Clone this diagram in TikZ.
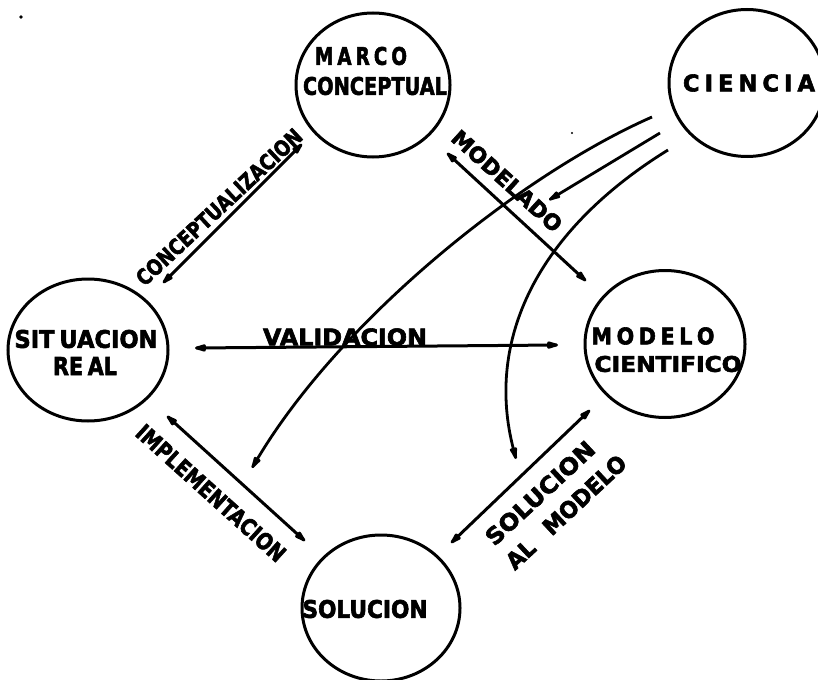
\documentclass[tikz,border=0pt]{standalone}
\usepackage{fontspec}
\setmainfont{DejaVu Sans}[BoldFont={DejaVu Sans Bold},BoldFeatures={FakeBold=2.6}]
\usetikzlibrary{shapes.geometric,arrows.meta}
\newcommand{\fitt}[3]{\resizebox{#1pt}{#2pt}{\bfseries #3}}
\newcommand{\gp}{\hspace{0.22em}}
\begin{document}
\begin{tikzpicture}[x=1pt,y=-1pt,
  bub/.style={draw,ellipse,line width=3pt,inner sep=0pt},
  lab/.style={inner sep=0pt,anchor=center},
  tipx/.tip={Latex[round,length=20pt,width=8.5pt]},
  rel/.style={line width=3pt,{tipx}-{tipx}},
  inf/.style={line width=2.8pt,-{tipx}}]
\useasboundingbox (0,0) rectangle (818,679);
\fill (21,17) circle (1.8);
\fill (572,133) circle (1.2);
% bubbles
\node[bub,minimum width=154pt,minimum height=144pt] (marco) at (373,85) {};
\node[bub,minimum width=156pt,minimum height=147pt] (ciencia) at (747,83) {};
\node[bub,minimum width=160pt,minimum height=142pt] (sit) at (88,350) {};
\node[bub,minimum width=160pt,minimum height=147pt] (modelo) at (665,344) {};
\node[bub,minimum width=158pt,minimum height=146pt] (sol) at (381,608) {};
% bubble texts
\node[lab] (tmarco) at (361,56) {\fitt{92}{18}{M\gp A\gp R\gp C\gp O}};
\node[lab] (tconc) at (375,86) {\fitt{144}{18}{CONCEPTUAL}};
\node[lab] (tcien) at (749,83) {\fitt{132}{17}{C\gp I\gp E\gp N\gp C\gp I\gp A}};
\node[lab] (tsit) at (86,339) {\fitt{143}{18}{SIT\gp UACION}};
\node[lab] (treal) at (85,366) {\fitt{64}{18}{RE\gp AL}};
\node[lab] (tmod) at (653,336) {\fitt{123}{17}{M\gp O\gp D\gp E\gp L\gp O}};
\node[lab] (tcie) at (668,364) {\fitt{147}{16}{CIENTIFICO}};
\node[lab] (tsol) at (365,609) {\fitt{125}{18}{SOLUCION}};
% connector end points
\coordinate (cs) at (163,283); \coordinate (cm) at (302,144);
\coordinate (mm) at (447,153); \coordinate (mo) at (586,281);
\coordinate (vs) at (195,348); \coordinate (vm) at (558,345);
\coordinate (is) at (167,416); \coordinate (iu) at (305,541);
\coordinate (su) at (451,543); \coordinate (sm) at (590,410);
\coordinate (ca1) at (652,117); \coordinate (ca2) at (252,468);
\coordinate (cb1) at (660,133); \coordinate (cb2) at (549,200);
\coordinate (cc1) at (668,150); \coordinate (cc2) at (516,459);
% relations
\draw[rel] (cs) -- (cm);
\draw[rel] (mm) -- (mo);
\draw[rel] (vs) -- (vm);
\draw[rel] (is) -- (iu);
\draw[rel] (su) -- (sm);
% ciencia influences
\draw[inf] (ca1) .. controls (520,175) and (340,320) .. (ca2);
\draw[inf] (cb1) -- (cb2);
\draw[inf] (cc1) .. controls (537,231) and (485,340) .. (cc2);
% relation labels
\node[lab,rotate=43] (lconc) at (219,207) {\fitt{218}{16}{CONCEPTUALIZACION}};
\node[lab,rotate=-42] (lmod) at (507,181) {\fitt{140}{16}{MODELADO}};
\node[lab] (lval) at (345,337) {\fitt{164}{17}{VALIDACION}};
\node[lab,rotate=-42] (limp) at (211,493) {\fitt{192}{17}{IMPLEMENTACION}};
\node[lab,rotate=43] (lsol) at (540,493) {\fitt{140}{17}{SOLUCION}};
\node[lab,rotate=43] (lal) at (566,512) {\fitt{155}{17}{AL\hspace{0.9em}MODELO}};
\end{tikzpicture}
\end{document}
